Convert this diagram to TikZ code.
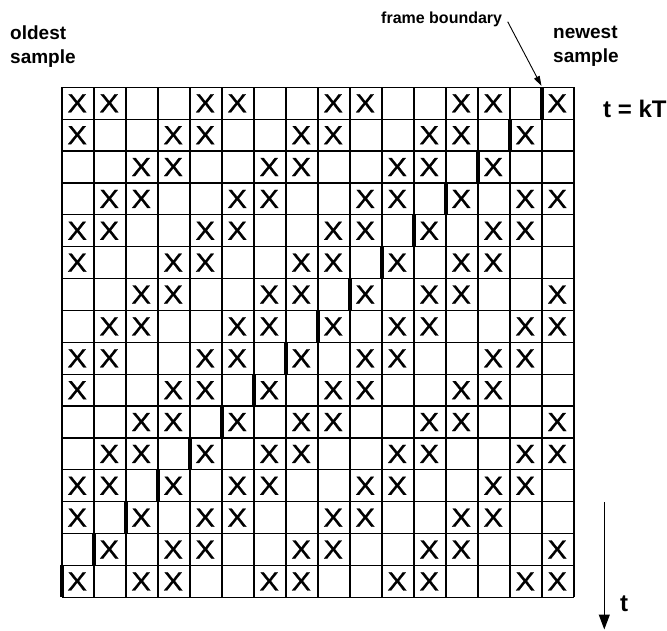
\documentclass[tikz,border=0pt]{standalone}
\usepackage{fontspec}
\setmainfont{Liberation Sans}
\newfontfamily\xmarkfont[FakeBold=0.8]{Liberation Sans}
\usetikzlibrary{arrows.meta}
\begin{document}
\begin{tikzpicture}[x=1pt,y=-1pt,
  gridline/.style={line width=1.2pt, black},
  bar/.style={line width=4pt, black},
  xmark/.style={inner sep=0pt, anchor=center, font=\xmarkfont},
  lbl/.style={font=\fontsize{19}{24}\selectfont\bfseries, align=left, inner sep=0pt, anchor=north west},
  small/.style={font=\fontsize{16}{19}\selectfont\bfseries, inner sep=0pt, anchor=base west},
  big/.style={font=\fontsize{24}{28}\selectfont\bfseries, inner sep=0pt, anchor=base west},
  pointer/.style={line width=0.9pt, -{Triangle[length=10pt,width=6pt]}},
  timearrow/.style={line width=1.1pt, -{Triangle[length=15pt,width=11pt]}},
]
\useasboundingbox (0,0) rectangle (667,630);
\def\L{62}
\def\T{87.3}
\def\W{32}
\def\H{31.875}
% grid
\foreach \i in {0,...,16} {
  \draw[gridline] (\L+\i*\W, \T) -- (\L+\i*\W, \T+16*\H);
  \draw[gridline] (\L, \T+\i*\H) -- (\L+16*\W, \T+\i*\H);
}
% marks
\foreach \r in {0,...,15} {
  \foreach \c in {0,...,15} {
    \pgfmathtruncatemacro\b{15-\r}
    \pgfmathtruncatemacro\f{(\c<\b) ? (mod(\c+\r,4)<2) : ((\c==\b) || (mod(\c-\b,4)>=2))}
    \ifnum\r=2 \ifnum\c=15 \def\f{0}\fi\fi
    \ifnum\f=1
      \node[xmark] (x-\r-\c) at (\L+\c*\W+15.2, \T+\r*\H+16) {\resizebox{19.5pt}{18pt}{X}};
    \fi
  }
}
% frame boundaries
\foreach \r in {0,...,15} {
  \pgfmathtruncatemacro\b{15-\r}
  \draw[bar] (\L+\b*\W-0.5, \T+\r*\H) -- (\L+\b*\W-0.5, \T+\r*\H+\H);
}
% labels
\node[lbl] (old) at (10,25.5) {oldest\\sample};
\node[lbl] (new) at (553,25.5) {newest\\sample};
\node[small] (fb) at (381,23) {frame boundary};
\node[big] (tk) at (603,117) {t = kT};
\node[big] (tl) at (620,611) {t};
% pointer
\coordinate (fbstart) at (507.7,21.7);
\coordinate (fbtip) at (541.5,86);
\draw[pointer] (fbstart) -- (fbtip);
% time arrow
\coordinate (ttop) at (604.3,502);
\coordinate (tbot) at (604.3,629.5);
\draw[timearrow] (ttop) -- (tbot);
\end{tikzpicture}
\end{document}
